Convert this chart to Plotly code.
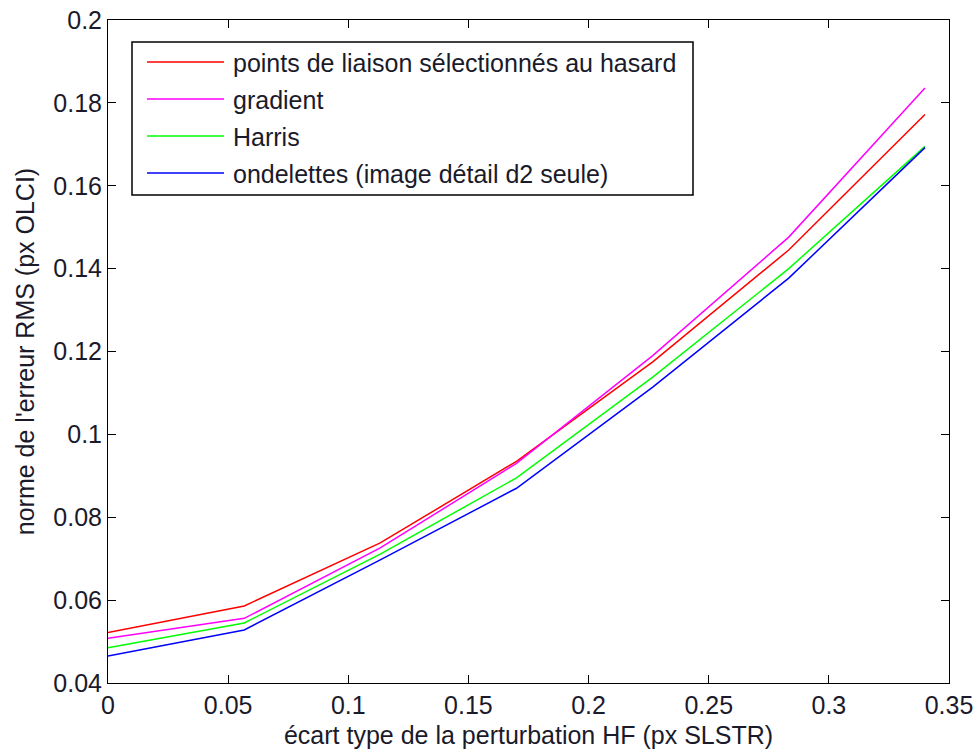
import plotly.graph_objects as go

x_vals = [0.0, 0.0567, 0.1133, 0.17, 0.2267, 0.2833, 0.34]
y_random = [0.0522, 0.0586, 0.0738, 0.0935, 0.1175, 0.1445, 0.1772]
y_gradient = [0.0508, 0.0556, 0.0726, 0.0930, 0.1190, 0.1476, 0.1836]
y_harris = [0.0485, 0.0545, 0.0711, 0.0895, 0.1138, 0.1400, 0.1695]
y_ondelettes = [0.0465, 0.0528, 0.0697, 0.0870, 0.1114, 0.1377, 0.1692]

names = ["points de liaison sélectionnés au hasard", "gradient", "Harris",
         "ondelettes (image détail d2 seule)"]
colors = ["#ff0000", "#ff00ff", "#00ff00", "#0000ff"]
series = [y_random, y_gradient, y_harris, y_ondelettes]

x_ticks = [0, 0.05, 0.1, 0.15, 0.2, 0.25, 0.3, 0.35]
y_ticks = [0.04, 0.06, 0.08, 0.1, 0.12, 0.14, 0.16, 0.18, 0.2]

FONT = "Liberation Sans, Arial, sans-serif"
FS = 25
TXT = "#1a1a2a"
fig = go.Figure()
for n, c, ys in zip(names, colors, series):
    fig.add_trace(go.Scatter(x=x_vals, y=ys, mode="lines", name=n,
                             line=dict(color=c, width=1.5), showlegend=False))

axis_common = dict(showline=True, linecolor="black", linewidth=1, mirror="ticks",
                   ticks="inside", ticklen=8, tickcolor="black", showgrid=False,
                   zeroline=False, automargin=False, ticklabeloverflow="allow",
                   tickfont=dict(size=FS, color=TXT, family=FONT))
fig.update_xaxes(range=[0, 0.35], tickvals=x_ticks,
                 ticktext=[f"{v:g}" for v in x_ticks],
                 title=dict(text="écart type de la perturbation HF (px SLSTR)",
                            font=dict(size=FS, color=TXT, family=FONT), standoff=8),
                 **axis_common)
fig.update_yaxes(range=[0.04, 0.2], tickvals=y_ticks,
                 ticktext=[f"{v:g}" for v in y_ticks],
                 title=dict(text="norme de l'erreur RMS (px OLCI)",
                            font=dict(size=FS, color=TXT, family=FONT), standoff=11),
                 **axis_common)

# Legend box drawn in paper coordinates (page pixel targets converted)
pw, ph = 841.0, 663.0
def px(xp):
    return (xp - 108) / pw
def py(yp):
    return 1 - (yp - 20) / ph

shapes = [dict(type="rect", xref="paper", yref="paper", x0=px(132), x1=px(693),
               y0=py(195), y1=py(42), line=dict(color="black", width=1.5),
               fillcolor="white", layer="above")]
annotations = []
rows = [62, 99, 136, 173]
for n, c, r in zip(names, colors, rows):
    shapes.append(dict(type="line", xref="paper", yref="paper", x0=px(147), x1=px(224),
                       y0=py(r), y1=py(r), line=dict(color=c, width=1.5), layer="above"))
    annotations.append(dict(xref="paper", yref="paper", x=px(231), y=py(r + 1), text=n,
                            showarrow=False, xanchor="left", yanchor="middle",
                            font=dict(size=FS, color=TXT, family=FONT)))

fig.update_layout(width=978, height=753, plot_bgcolor="white", paper_bgcolor="white",
                  margin=dict(l=108, r=29, t=20, b=70),
                  font=dict(family=FONT, color=TXT),
                  shapes=shapes, annotations=annotations)
# remove the default 8px body margin so the figure fills the window exactly
fig.write_html("out.html", config={"displayModeBar": False},
               post_script="document.body.style.margin='0';document.body.style.overflow='hidden';")
